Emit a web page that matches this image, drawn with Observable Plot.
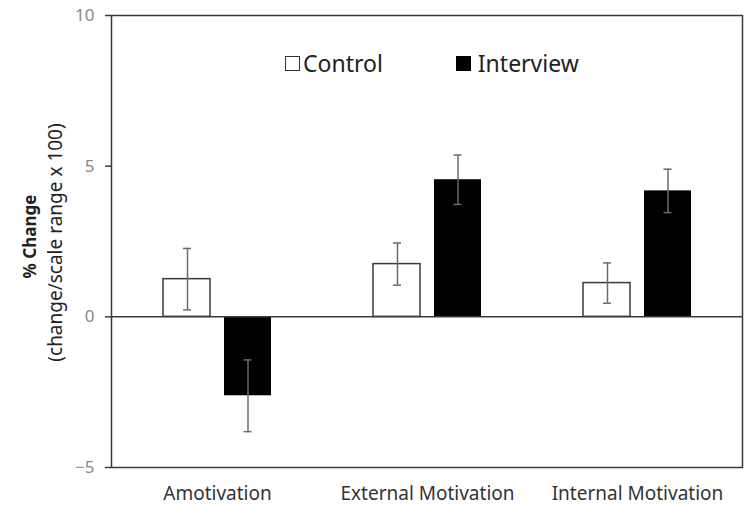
<!DOCTYPE html>
<html>
<head>
<meta charset="utf-8">
<script src="https://cdn.jsdelivr.net/npm/d3@7"></script>
<script src="https://cdn.jsdelivr.net/npm/@observablehq/plot@0.6"></script>
<style>
  body { margin: 0; background: #fff; }
  #wrap { position: relative; width: 745px; height: 508px; font-family: "Noto Sans", "Open Sans", sans-serif; }
  .item { position: absolute; top: 48px; display: flex; align-items: center; font-size: 23px; line-height: 30px; color: #222; }
  .sw { display: inline-block; box-sizing: border-box; width: 15px; height: 15px; border: 1.5px solid #333; margin-right: 3px; }
</style>
</head>
<body>
<div id="wrap"></div>
<script>
const categories = ["Amotivation", "External Motivation", "Internal Motivation"];
const series = ["Control", "Interview"];
const controlValues = [1.25, 1.75, 1.12];
const controlErrors = [1.02, 0.70, 0.67];
const interviewValues = [-2.62, 4.55, 4.18];
const interviewErrors = [1.19, 0.82, 0.72];
const yTicks = [-5, 0, 5, 10];

const data = [];
categories.forEach((c, i) => {
  data.push({category: c, series: "Control", value: controlValues[i], err: controlErrors[i]});
  data.push({category: c, series: "Interview", value: interviewValues[i], err: interviewErrors[i]});
});
const ctrl = data.filter(d => d.series === "Control");
const intv = data.filter(d => d.series === "Interview");

const ink = "#3a3a3a";
const errColor = "#6a6a6a";

const chart = Plot.plot({
  width: 745,
  height: 508,
  marginLeft: 111,
  marginRight: 3,
  marginTop: 15,
  marginBottom: 41,
  style: {fontFamily: "'Noto Sans', 'Open Sans', sans-serif", background: "#fff"},
  x: {domain: categories, paddingInner: 0.4865, paddingOuter: 0.243, label: null},
  y: {domain: [-5, 10], ticks: yTicks, label: null},
  marks: [
    Plot.barY(ctrl, {x: "category", y: "value", fill: "white", stroke: ink, strokeWidth: 1.5, insetRight: 61}),
    Plot.barY(intv, {x: "category", y: "value", fill: "black", insetLeft: 61}),
    Plot.ruleX(ctrl, {x: "category", y1: d => d.value - d.err, y2: d => d.value + d.err, stroke: errColor, strokeWidth: 1.5, dx: -30}),
    Plot.ruleX(intv, {x: "category", y1: d => d.value - d.err, y2: d => d.value + d.err, stroke: errColor, strokeWidth: 1.5, dx: 30.5}),
    Plot.tickY(ctrl, {x: "category", y: d => d.value + d.err, stroke: errColor, strokeWidth: 1.5, insetLeft: 20, insetRight: 80}),
    Plot.tickY(ctrl, {x: "category", y: d => d.value - d.err, stroke: errColor, strokeWidth: 1.5, insetLeft: 20, insetRight: 80}),
    Plot.tickY(intv, {x: "category", y: d => d.value + d.err, stroke: errColor, strokeWidth: 1.5, insetLeft: 80.5, insetRight: 19.5}),
    Plot.tickY(intv, {x: "category", y: d => d.value - d.err, stroke: errColor, strokeWidth: 1.5, insetLeft: 80.5, insetRight: 19.5}),
    Plot.ruleY([0], {stroke: ink, strokeWidth: 1.5}),
    Plot.frame({stroke: ink, strokeWidth: 1.5}),
    Plot.axisY({ticks: yTicks, tickSize: 6, tickPadding: 11, fontSize: 17, color: "#888", stroke: ink, strokeWidth: 1.5, label: null}),
    Plot.axisX({tickSize: 0, tickPadding: 19, fontSize: 19, color: "#333", label: null}),
    Plot.text(["% Change"], {frameAnchor: "left", rotate: -90, textAnchor: "middle", dx: -81, dy: -5, fontSize: 17, fontWeight: "bold", fill: "#222"}),
    Plot.text(["(change/scale range x 100)"], {frameAnchor: "left", rotate: -90, textAnchor: "middle", dx: -56, dy: 1, fontSize: 19, fill: "#222"})
  ]
});
const wrap = document.getElementById("wrap");
wrap.appendChild(chart);
chart.style.position = "absolute";
chart.style.left = "0";
chart.style.top = "0";

series.forEach((s, i) => {
  const item = document.createElement("div");
  item.className = "item";
  item.style.left = (i === 0 ? 285 : 456) + "px";
  const sw = document.createElement("span");
  sw.className = "sw";
  sw.style.background = i === 0 ? "#fff" : "#000";
  if (i === 1) sw.style.borderColor = "#000";
  item.appendChild(sw);
  item.appendChild(document.createTextNode(i === 1 ? "\u2009" + s : s));
  wrap.appendChild(item);
});
</script>
</body>
</html>
